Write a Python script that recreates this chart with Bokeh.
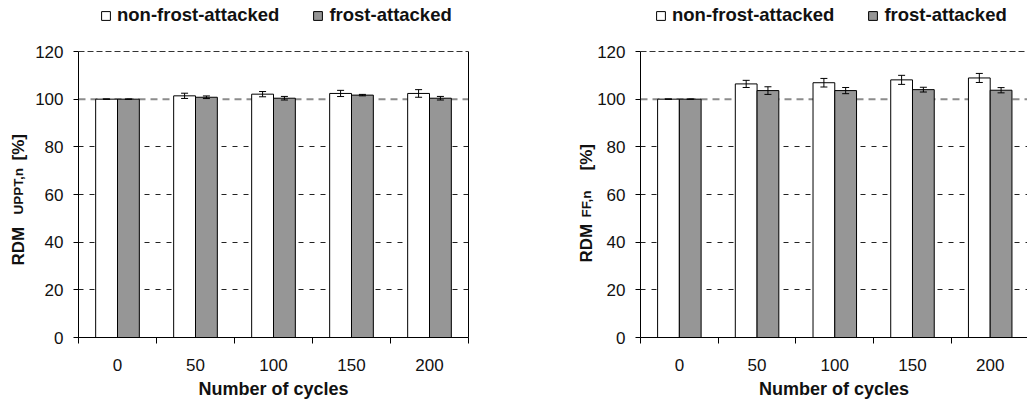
from bokeh.plotting import figure
from bokeh.models import (ColumnDataSource, FixedTicker, LinearAxis, Whisker, TeeHead,
                          Span, Label, Legend, LegendItem, Range1d)
from bokeh.layouts import row
from bokeh.embed import file_html
from bokeh.resources import INLINE
import math

# number of freeze-thaw cycles (category labels)
cycles = ["0", "50", "100", "150", "200"]

# relative dynamic modulus from ultrasonic pulse transit time, %
uppt_non = [100.0, 101.4, 102.1, 102.4, 102.4]
uppt_non_err = [0.0, 1.1, 1.1, 1.3, 1.6]
uppt_frost = [100.0, 100.8, 100.4, 101.7, 100.4]
uppt_frost_err = [0.0, 0.55, 0.75, 0.3, 0.75]

# relative dynamic modulus from fundamental frequency, %
ff_non = [100.0, 106.4, 106.9, 108.1, 108.9]
ff_non_err = [0.0, 1.5, 1.8, 1.9, 1.9]
ff_frost = [100.0, 103.6, 103.6, 104.0, 103.75]
ff_frost_err = [0.0, 1.6, 1.3, 1.0, 1.1]

y_ticks = [0, 20, 40, 60, 80, 100, 120]
grid_ticks = [20, 40, 60, 80]
Y_MAX = 120

FONT = "Liberation Sans"
BAR_W = 0.28
OFFSET = 0.14
PLOT_TOP = 51        # pixel row of the 120 line
FRAME_BOTTOM = 337   # pixel row of the x axis
HEIGHT = 402


def make_chart(non, non_err, frost, frost_err, width, border_left, border_right,
               x_end, sub_text, ylabel_px, ylabel_panels, legend_x, right_border):
    idx = list(range(len(cycles)))
    x_non = [i - OFFSET for i in idx]
    x_frost = [i + OFFSET for i in idx]
    src = ColumnDataSource(dict(
        x_non=x_non, x_frost=x_frost, non=non, frost=frost,
        non_up=[v + e for v, e in zip(non, non_err)],
        non_lo=[v - e for v, e in zip(non, non_err)],
        frost_up=[v + e for v, e in zip(frost, frost_err)],
        frost_lo=[v - e for v, e in zip(frost, frost_err)],
    ))

    # the frame reaches the top of the canvas so the legend sits inside it
    unit_y = (FRAME_BOTTOM - PLOT_TOP) / Y_MAX
    y_end = FRAME_BOTTOM / unit_y

    p = figure(width=width, height=HEIGHT, output_backend="svg", toolbar_location=None,
               title=None,
               x_range=Range1d(-0.5, x_end), y_range=Range1d(0, y_end),
               min_border_left=border_left, min_border_right=border_right,
               min_border_top=0, min_border_bottom=HEIGHT - FRAME_BOTTOM)
    p.outline_line_color = None
    p.background_fill_color = "white"
    p.border_fill_color = "white"
    p.xgrid.visible = False

    p.ygrid.ticker = FixedTicker(ticks=grid_ticks)
    p.ygrid.grid_line_color = "#222222"
    p.ygrid.grid_line_dash = "5 6"
    p.ygrid.grid_line_width = 1

    top_line = Span(location=Y_MAX, dimension="width", line_color="#333333",
                    line_width=1.2, line_dash="6 3", level="underlay")
    p.add_layout(top_line)
    ref = Span(location=100, dimension="width", line_color="#8c8c8c",
               line_width=2, line_dash="7 5", level="underlay")
    p.add_layout(ref)

    r_non = p.vbar(x="x_non", top="non", width=BAR_W, source=src,
                   fill_color="white", line_color="black", line_width=1)
    r_frost = p.vbar(x="x_frost", top="frost", width=BAR_W, source=src,
                     fill_color="#969696", line_color="black", line_width=1)

    for base, up, lo in (("x_non", "non_up", "non_lo"), ("x_frost", "frost_up", "frost_lo")):
        w = Whisker(source=src, base=base, upper=up, lower=lo, dimension="height",
                    line_color="black", line_width=1, level="overlay",
                    upper_head=TeeHead(size=7, line_color="black", line_width=1),
                    lower_head=TeeHead(size=7, line_color="black", line_width=1))
        p.add_layout(w)

    # x axis: labels at category centres, tick marks between categories
    xa = p.xaxis[0]
    xa.ticker = FixedTicker(ticks=idx, minor_ticks=[i - 0.5 for i in range(len(cycles) + 1)])
    xa.major_label_overrides = {i: c for i, c in zip(idx, cycles)}
    xa.major_tick_out = 0
    xa.major_tick_in = 0
    xa.minor_tick_out = 6
    xa.minor_tick_in = 0
    xa.minor_tick_line_color = "black"
    xa.axis_line_color = "black"
    xa.major_label_standoff = 15
    xa.major_label_text_font = FONT
    xa.major_label_text_font_size = "17px"
    xa.major_label_text_color = "#111111"
    xa.axis_label = "Number of cycles"
    xa.axis_label_text_font = FONT
    xa.axis_label_text_font_style = "bold"
    xa.axis_label_text_font_size = "18px"
    xa.axis_label_text_color = "#111111"
    xa.axis_label_standoff = 5

    ya = p.yaxis[0]
    ya.ticker = FixedTicker(ticks=y_ticks)
    ya.bounds = (0, Y_MAX)
    ya.major_tick_out = 5
    ya.major_tick_in = 0
    ya.minor_tick_line_color = None
    ya.axis_line_color = "black"
    ya.major_tick_line_color = "black"
    ya.major_label_standoff = 10
    ya.major_label_text_font = FONT
    ya.major_label_text_font_size = "17px"
    ya.major_label_text_color = "#111111"

    if right_border:
        rb = LinearAxis(ticker=FixedTicker(ticks=[]), bounds=(0, Y_MAX),
                        axis_line_color="black", major_label_text_font_size="0px",
                        major_tick_line_color=None, minor_tick_line_color=None,
                        major_label_standoff=0)
        p.add_layout(rb, "right")

    # rotated y-axis title with a subscript, placed left of the tick labels
    frame_w = width - border_left - border_right
    unit_x = frame_w / (x_end + 0.5)

    def dx(px):
        return -0.5 + (px - border_left) / unit_x

    def dy(py):
        return (FRAME_BOTTOM - py) / unit_y

    bx, y_main, y_sub, y_pct = ylabel_px
    parts = (("RDM", y_main, "17px"), (sub_text, y_sub, "13.5px"), ("[%]", y_pct, "17px"))
    for (txt, py, size), panel in zip(parts, ylabel_panels):
        p.add_layout(Label(x=dx(bx), y=dy(py), text=txt, angle=math.pi / 2,
                           text_align="left", text_baseline="alphabetic",
                           text_font=FONT, text_font_style="bold",
                           text_font_size=size, text_color="#111111"), panel)

    legend = Legend(items=[LegendItem(label="non-frost-attacked", renderers=[r_non]),
                           LegendItem(label="frost-attacked", renderers=[r_frost])],
                    location=(legend_x, FRAME_BOTTOM - 26),
                    orientation="horizontal", glyph_width=11, glyph_height=11,
                    label_standoff=6, spacing=33, padding=0, margin=0,
                    label_height=18, label_text_font=FONT, label_text_font_style="bold",
                    label_text_font_size="18.5px", label_text_color="#111111",
                    border_line_color=None, background_fill_alpha=0)
    p.add_layout(legend)
    return p


left = make_chart(uppt_non, uppt_non_err, uppt_frost, uppt_frost_err,
                  width=510, border_left=78, border_right=42, x_end=4.5,
                  sub_text="UPPT,n", ylabel_px=(18, 265, 214, 160),
                  ylabel_panels=("left", "right", "right"),
                  legend_x=22, right_border=True)
right = make_chart(ff_non, ff_non_err, ff_frost, ff_frost_err,
                   width=517, border_left=130, border_right=0, x_end=4.48,
                   sub_text="FF,n", ylabel_px=(76, 262, 217, 170),
                   ylabel_panels=("left", "left", "left"),
                   legend_x=15, right_border=False)

layout = row(left, right)
open("out.html", "w").write(file_html(layout, INLINE))
